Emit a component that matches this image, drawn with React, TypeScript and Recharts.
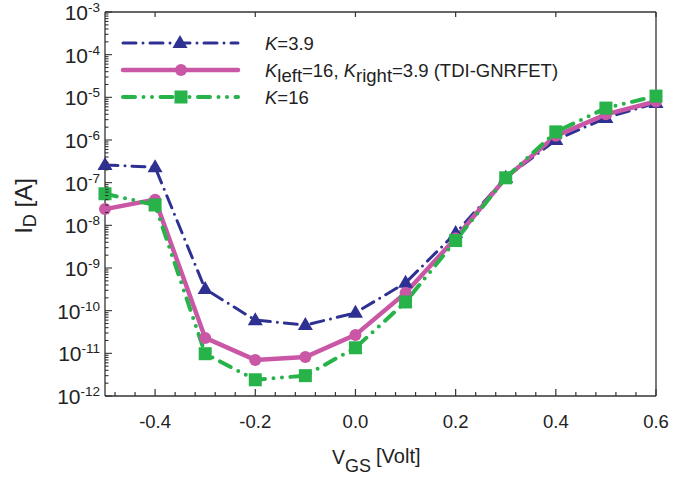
import { LineChart, Line, XAxis, YAxis, Legend } from "recharts";

// gate voltage points (V)
const vgs = [-0.5, -0.4, -0.3, -0.2, -0.1, 0.0, 0.1, 0.2, 0.3, 0.4, 0.5, 0.6];

// drain current (A) for each dielectric configuration
const idK39 = [2.6e-7, 2.3e-7, 3.2e-10, 6.0e-11, 4.6e-11, 8.9e-11, 4.5e-10, 6.6e-9, 1.3e-7, 1.0e-6, 3.3e-6, 7.4e-6];
const idTdi = [2.4e-8, 4.0e-8, 2.3e-11, 7.0e-12, 8.2e-12, 2.7e-11, 2.6e-10, 5.0e-9, 1.3e-7, 1.25e-6, 4.0e-6, 8.0e-6];
const idK16 = [5.5e-8, 3.0e-8, 9.8e-12, 2.4e-12, 3.0e-12, 1.35e-11, 1.6e-10, 4.4e-9, 1.3e-7, 1.55e-6, 5.6e-6, 1.07e-5];

const xMajor = [-0.4, -0.2, 0.0, 0.2, 0.4, 0.6];
const decades = [-12, -11, -10, -9, -8, -7, -6, -5, -4, -3];

const data = vgs.map((v, i) => ({ v, k39: idK39[i], tdi: idTdi[i], k16: idK16[i] }));

const xTicks: number[] = [];
for (let k = 0; k <= 27; k++) xTicks.push(Math.round((-0.48 + 0.04 * k) * 100) / 100);

const yMajor = decades.map((d) => Math.pow(10, d));
const yTicks: number[] = [];
decades.forEach((d) => {
  yTicks.push(Math.pow(10, d));
  if (d < -3) for (let m = 2; m <= 9; m++) yTicks.push(m * Math.pow(10, d));
});

const BLUE = "#2e3192";
const PINK = "#c957a6";
const GREEN = "#27b24a";
const AXIS = "#333";
const FONT = "'Liberation Sans', Arial, sans-serif";

const isMajorX = (v: number) => xMajor.some((m) => Math.abs(m - v) < 1e-6);
const isMajorY = (v: number) => yMajor.some((m) => Math.abs(Math.log10(v) - Math.log10(m)) < 1e-6);

const BottomTick = ({ x, y, payload }: any) => {
  const major = isMajorX(payload.value);
  return (
    <g>
      <line x1={x} x2={x} y1={y} y2={y - (major ? 7 : 4)} stroke={AXIS} strokeWidth={1.2} />
      {major && (
        <text x={x} y={y + 32} textAnchor="middle" fontSize={18.5} fontFamily={FONT} fill="#222">
          {payload.value.toFixed(1)}
        </text>
      )}
    </g>
  );
};

const TopTick = ({ x, y }: any) => (
  <line x1={x} x2={x} y1={y} y2={y + 5} stroke={AXIS} strokeWidth={1.2} />
);

const LeftTick = ({ x, y, payload }: any) => {
  const major = isMajorY(payload.value);
  const exp = Math.round(Math.log10(payload.value));
  return (
    <g>
      <line x1={x} x2={x + (major ? 7 : 3.5)} y1={y} y2={y} stroke={AXIS} strokeWidth={1.1} />
      {major && (
        <text x={x - 5} y={y + 8} textAnchor="end" fontSize={21} fontFamily={FONT} fill="#222">
          <tspan>10</tspan>
          <tspan fontSize={13.5} dy={-8}>{exp}</tspan>
        </text>
      )}
    </g>
  );
};

const RightTick = ({ x, y }: any) => (
  <line x1={x} x2={x - 6} y1={y} y2={y} stroke={AXIS} strokeWidth={1.2} />
);

const Triangle = ({ cx, cy, index }: any) => (
  <path key={`tri-${index}`} d={`M${cx},${cy - 8} L${cx + 7.5},${cy + 5} L${cx - 7.5},${cy + 5} Z`} fill={BLUE} />
);

const Square = ({ cx, cy, index }: any) => (
  <rect key={`sq-${index}`} x={cx - 6.5} y={cy - 6.5} width={13} height={13} fill={GREEN} />
);

const LegendBox = () => (
  <svg width={500} height={85} style={{ fontFamily: FONT }}>
    <line x1={8} x2={123} y1={15} y2={15} stroke={BLUE} strokeWidth={3} strokeDasharray="13 7 0 7" strokeLinecap="round" />
    <path d="M65,7 L72.5,20 L57.5,20 Z" fill={BLUE} />
    <text x={150} y={22} fontSize={18.5} fill="#222">
      <tspan fontStyle="italic">K</tspan>=3.9
    </text>

    <line x1={8} x2={123} y1={42} y2={42} stroke={PINK} strokeWidth={4.5} strokeLinecap="round" />
    <circle cx={66} cy={42} r={6} fill={PINK} />
    <text x={150} y={49} fontSize={18.5} fill="#222">
      <tspan fontStyle="italic">K</tspan>
      <tspan dy={5}>left</tspan>
      <tspan dy={-5}>=16, </tspan>
      <tspan fontStyle="italic">K</tspan>
      <tspan dy={5}>right</tspan>
      <tspan dy={-5}>=3.9 (TDI-GNRFET)</tspan>
    </text>

    <line x1={8} x2={123} y1={69} y2={69} stroke={GREEN} strokeWidth={4} strokeDasharray="12 8.5 0 8.5 0 8.5" strokeLinecap="round" />
    <rect x={59.5} y={62.5} width={13} height={13} fill={GREEN} />
    <text x={150} y={76} fontSize={18.5} fill="#222">
      <tspan fontStyle="italic">K</tspan>=16
    </text>
  </svg>
);

const YTitle = () => (
  <text transform="translate(32,206) rotate(-90)" textAnchor="middle" fontSize={24} fontFamily={FONT} fill="#222">
    <tspan>I</tspan>
    <tspan fontSize={18} dy={4}>D</tspan>
    <tspan dy={-4}> [A]</tspan>
  </text>
);

const XTitle = () => (
  <text x={332} y={464} fontSize={19.5} fontFamily={FONT} fill="#222">
    <tspan>V</tspan>
    <tspan fontSize={18} dy={8}>GS</tspan>
    <tspan dy={-9} dx={5} fontSize={20}>[Volt]</tspan>
  </text>
);

export default function App() {
  return (
    <div style={{ position: "absolute", left: 0, top: 0, background: "#fff" }}>
      <LineChart width={700} height={479} data={data} margin={{ top: 11, right: 43, bottom: 43, left: 45 }}>
        <XAxis
          xAxisId="b"
          dataKey="v"
          type="number"
          domain={[-0.5, 0.6]}
          ticks={xTicks}
          interval={0}
          tickSize={0}
          tickMargin={0}
          tickLine={false}
          tick={<BottomTick />}
          height={40}
          axisLine={{ stroke: AXIS, strokeWidth: 1.3 }}
          label={<XTitle />}
        />
        <XAxis
          xAxisId="t"
          orientation="top"
          dataKey="v"
          type="number"
          domain={[-0.5, 0.6]}
          ticks={xMajor}
          interval={0}
          tickSize={0}
          tickMargin={0}
          tickLine={false}
          tick={<TopTick />}
          height={1}
          axisLine={{ stroke: AXIS, strokeWidth: 1.3 }}
        />
        <YAxis
          yAxisId="l"
          scale="log"
          type="number"
          domain={[1e-12, 1e-3]}
          ticks={yTicks}
          interval={0}
          tickSize={0}
          tickMargin={0}
          tickLine={false}
          tick={<LeftTick />}
          width={60}
          axisLine={{ stroke: AXIS, strokeWidth: 1.3 }}
          label={<YTitle />}
        />
        <YAxis
          yAxisId="r"
          orientation="right"
          scale="log"
          type="number"
          domain={[1e-12, 1e-3]}
          ticks={yMajor}
          interval={0}
          tickSize={0}
          tickMargin={0}
          tickLine={false}
          tick={<RightTick />}
          width={1}
          axisLine={{ stroke: AXIS, strokeWidth: 1.3 }}
        />
        <Legend
          layout="horizontal"
          verticalAlign="middle"
          align="center"
          content={<LegendBox />}
          wrapperStyle={{ left: 115, top: 28, width: 500, height: 85 }}
        />
        <Line
          xAxisId="b"
          yAxisId="l"
          dataKey="k39"
          stroke={BLUE}
          strokeWidth={3}
          strokeDasharray="13 7 0 7"
          strokeLinecap="round"
          dot={Triangle}
          activeDot={false}
          isAnimationActive={false}
        />
        <Line
          xAxisId="b"
          yAxisId="l"
          dataKey="tdi"
          stroke={PINK}
          strokeWidth={4.5}
          dot={{ r: 6, fill: PINK, stroke: PINK, strokeWidth: 0 }}
          activeDot={false}
          isAnimationActive={false}
        />
        <Line
          xAxisId="b"
          yAxisId="l"
          dataKey="k16"
          stroke={GREEN}
          strokeWidth={4}
          strokeDasharray="12 8.5 0 8.5 0 8.5"
          strokeLinecap="round"
          dot={Square}
          activeDot={false}
          isAnimationActive={false}
        />
      </LineChart>
    </div>
  );
}
